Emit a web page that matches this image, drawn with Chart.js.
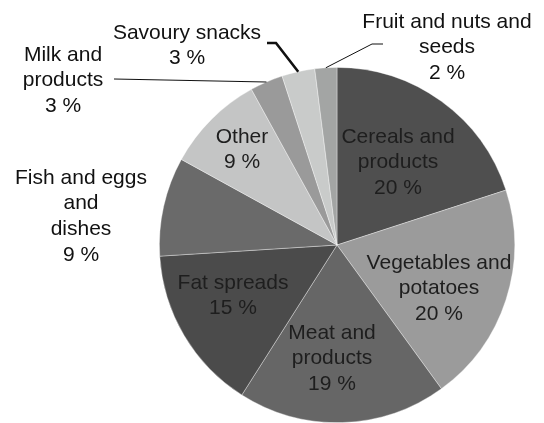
<!DOCTYPE html>
<html>
<head>
<meta charset="utf-8">
<script src="https://cdn.jsdelivr.net/npm/chart.js@4/dist/chart.umd.min.js"></script>
<style>
  html, body { margin: 0; padding: 0; background: #fff; overflow: hidden; }
  canvas { display: block; }
</style>
</head>
<body>
<canvas id="dietPie" width="544" height="423"></canvas>
<script>
'use strict';

// food groups, clockwise from 12 o'clock
var categories = ['Cereals and products', 'Vegetables and potatoes', 'Meat and products', 'Fat spreads',
    'Fish and eggs and dishes', 'Other', 'Milk and products', 'Savoury snacks', 'Fruit and nuts and seeds'];
var shares = [20, 20, 19, 15, 9, 9, 3, 3, 2];
var labelLines = [
    ['Cereals and', 'products'],
    ['Vegetables and', 'potatoes'],
    ['Meat and', 'products'],
    ['Fat spreads'],
    ['Fish and eggs', 'and', 'dishes'],
    ['Other'],
    ['Milk and', 'products'],
    ['Savoury snacks'],
    ['Fruit and nuts and', 'seeds']
];
var sliceColors = ['#4f4f4f', '#9b9b9b', '#666666', '#4b4b4b', '#6a6a6a', '#c4c5c5', '#9a9a9a', '#c9cbca', '#a3a5a4'];

// where each text block sits (centre of first line) and how its leader runs
var labelPos = [
    {x: 398, y: 137}, {x: 439, y: 263}, {x: 332, y: 333}, {x: 233, y: 283},
    {x: 81, y: 178}, {x: 242, y: 137},
    {x: 63, y: 55, leader: [[114, 79]], width: 1.2},
    {x: 187, y: 33, leader: [[267, 43], [276, 43]], width: 2.6},
    {x: 447, y: 22, leader: [[383, 44], [372, 44]], width: 1}
];

var FONT = '21px "Liberation Sans", Arial, Helvetica, sans-serif';
var LINE_H = 25.7;

var sliceLabels = {
    id: 'sliceLabels',
    afterDatasetsDraw: function(chart) {
        var ctx = chart.ctx;
        var arcs = chart.getDatasetMeta(0).data;
        ctx.save();
        for (var i = 0; i < arcs.length; i++) {
            var p = labelPos[i];
            if (p.leader) {
                // leader ends on the rim at the slice's middle angle
                var a = arcs[i];
                var mid = (a.startAngle + a.endAngle) / 2;
                var ex = a.x + Math.cos(mid) * a.outerRadius;
                var ey = a.y + Math.sin(mid) * a.outerRadius;
                ctx.beginPath();
                ctx.moveTo(p.leader[0][0], p.leader[0][1]);
                for (var k = 1; k < p.leader.length; k++) {
                    ctx.lineTo(p.leader[k][0], p.leader[k][1]);
                }
                ctx.lineTo(ex, ey);
                ctx.strokeStyle = '#111';
                ctx.lineWidth = p.width;
                ctx.stroke();
            }
            var lines = labelLines[i].concat([shares[i] + ' %']);
            ctx.font = FONT;
            ctx.textAlign = 'center';
            ctx.textBaseline = 'middle';
            ctx.fillStyle = p.leader || i === 4 ? '#111' : '#1e1e1e';
            for (var j = 0; j < lines.length; j++) {
                ctx.fillText(lines[j], p.x, p.y + j * LINE_H);
            }
        }
        ctx.restore();
    }
};

var ctx = document.getElementById('dietPie').getContext('2d');
var chart = new Chart(ctx, {
    type: 'pie',
    data: {
        labels: categories,
        datasets: [{
            data: shares,
            backgroundColor: sliceColors,
            borderColor: 'rgba(255, 255, 255, 0.45)',
            borderWidth: 0.8,
            clip: false
        }]
    },
    options: {
        responsive: false,
        animation: false,
        layout: { padding: { top: 67, bottom: -2, left: 158, right: 28 } },
        plugins: {
            legend: { display: false },
            tooltip: { enabled: false }
        }
    },
    plugins: [sliceLabels]
});
</script>
</body>
</html>
